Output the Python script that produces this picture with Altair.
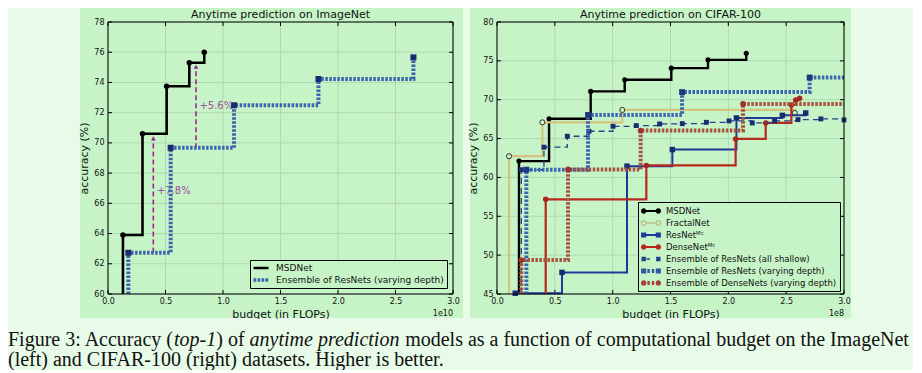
import altair as alt
import pandas as pd

# ------------------------------------------------------------------ data
X_TICKS = [0.0, 0.5, 1.0, 1.5, 2.0, 2.5, 3.0]
L_Y_TICKS = [60, 62, 64, 66, 68, 70, 72, 74, 76, 78]
R_Y_TICKS = [45, 50, 55, 60, 65, 70, 75, 80]

# ImageNet (budget in 1e10 FLOPs)
L_NAMES = ["MSDNet", "Ensemble of ResNets (varying depth)"]
L_MSD_X = [0.13, 0.30, 0.51, 0.707, 0.837]
L_MSD_Y = [63.9, 70.6, 73.75, 75.3, 76.0]
L_ENS_X = [0.177, 0.545, 1.096, 1.83, 2.656]
L_ENS_Y = [62.73, 69.68, 72.49, 74.23, 75.66]
L_GAIN_X = [0.394, 0.765]
L_GAIN_FROM = [62.75, 69.65]
L_GAIN_TO = [70.3, 75.04]
L_GAIN_LABEL = ["+7.8%", "+5.6%"]
L_GAIN_LABEL_X = [0.425, 0.795]
L_GAIN_LABEL_Y = [66.8, 72.45]

# CIFAR-100 (budget in 1e8 FLOPs)
R_NAMES = ["MSDNet", "FractalNet", "ResNet\u1d39\u1d9c", "DenseNet\u1d39\u1d9c",
           "Ensemble of ResNets (all shallow)", "Ensemble of ResNets (varying depth)",
           "Ensemble of DenseNets (varying depth)"]
R_X = [
    [0.19, 0.45, 0.81, 1.104, 1.507, 1.824, 2.155],
    [0.104, 0.392, 1.083, 2.574],
    [0.158, 0.562, 1.124, 1.516, 2.07, 2.467, 2.669],
    [0.421, 1.291, 2.063, 2.323, 2.545, 2.582, 2.617],
    [0.21, 0.406, 0.608, 0.795, 1.003, 1.204, 1.406, 1.602, 1.81, 2.006, 2.207, 2.40, 2.602, 2.80, 3.0],
    [0.254, 0.787, 1.60, 2.703],
    [0.21, 0.614, 1.242, 2.127],
]
R_Y = [
    [62.1, 67.56, 71.07, 72.56, 74.06, 75.13, 75.98],
    [62.73, 67.09, 68.68, 68.3],
    [45.1, 47.78, 61.45, 63.59, 67.65, 67.99, 68.29],
    [57.18, 61.54, 64.96, 67.01, 69.32, 69.96, 70.2],
    [60.99, 63.89, 65.3, 65.94, 66.58, 66.67, 66.88, 66.92, 67.09, 67.27, 67.01, 67.27, 67.44, 67.53, 67.4],
    [61.0, 68.04, 70.98, 72.86],
    [49.36, 61.03, 66.03, 69.45],
]

TITLES = ["Anytime prediction on ImageNet", "Anytime prediction on CIFAR-100"]
OFFSET_LABELS = ["1e10", "1e8"]
CAPTION_1 = [("Figure 3: Accuracy (", False), ("top-1", True), (") of ", False),
             ("anytime prediction", True),
             (" models as a function of computational budget on the ImageNet", False)]
CAPTION_2 = "(left) and CIFAR-100 (right) datasets. Higher is better."

# ------------------------------------------------------------------ style
MINT = "#e8fbe8"
PANEL = "#c7f4c7"
GRID = "#a8d2ac"
FONT = "DejaVu Sans"
W_L, W_R, H = 345, 347, 272
PURPLE = "#9c2596"
LEFT_PAD = 100

R_STYLE = [
    dict(c="#000000", w=2.4, dash=None, m="circle", ms=26, mc="#000000", bottom=True, edge=False),
    dict(c="#d6c47e", w=2.2, dash=None, m="circle", ms=26, mc="open", bottom=True, edge=False),
    dict(c="#1c3a9a", w=2.0, dash=None, m="square", ms=30, mc="#1b2b70", bottom=False, edge=False),
    dict(c="#b8281e", w=2.2, dash=None, m="circle", ms=30, mc="#a8281e", bottom=True, edge=False),
    dict(c="#23428a", w=1.3, dash=[6, 4], m="square", ms=24, mc="#1b2d72", bottom=True, edge=False),
    dict(c="#3a64b0", w=4.0, dash=[2.5, 1.5], m="square", ms=34, mc="#1f3580", bottom=True, edge=True),
    dict(c="#a6503e", w=4.0, dash=[2.5, 1.5], m="circle", ms=34, mc="#a0332a", bottom=True, edge=True),
]
L_STYLE = [
    dict(c="#000000", w=2.6, dash=None, m="circle", ms=30, mc="#000000", bottom=True, edge=False),
    dict(c="#3a64b0", w=4.0, dash=[2.5, 1.5], m="square", ms=36, mc="#1b2b70", bottom=True, edge=False),
]
R_LEG_COLORS = ["#000000", "#b8a860", "#1c3a9a", "#b8281e", "#23428a", "#2f56a6", "#a6403a"]
L_LEG_COLORS = ["#000000", "#3a64b0"]


def circ(cx, r, sweep=1):
    return (f"M{cx - r:.3f},0A{r},{r} 0 1,{sweep} {cx + r:.3f},0"
            f"A{r},{r} 0 1,{sweep} {cx - r:.3f},0Z")


def sq(cx, h):
    return f"M{cx - h:.3f},{-h}L{cx + h:.3f},{-h}L{cx + h:.3f},{h}L{cx - h:.3f},{h}Z"


def bar(x0, x1, h):
    return f"M{x0:.3f},{-h:.3f}L{x1:.3f},{-h:.3f}L{x1:.3f},{h:.3f}L{x0:.3f},{h:.3f}Z"


# right legend symbols: unit = 6 px (symbolSize 144)
R_LEG_PATHS = [
    bar(-1.22, 1.22, 0.17) + circ(-1.22, 0.45) + circ(1.22, 0.45),
    circ(-1.22, 0.47) + circ(-1.22, 0.3, 0) + circ(1.22, 0.47) + circ(1.22, 0.3, 0) + bar(-0.75, 0.75, 0.1),
    bar(-1.22, 1.22, 0.17) + sq(-1.22, 0.43) + sq(1.22, 0.43),
    bar(-1.22, 1.22, 0.17) + circ(-1.22, 0.45) + circ(1.22, 0.45),
    sq(-1.22, 0.37) + bar(-0.75, -0.17, 0.12) + sq(1.22, 0.37),
    sq(-1.22, 0.43) + bar(-0.6, -0.2, 0.33) + bar(0.13, 0.53, 0.33) + sq(1.22, 0.43),
    circ(-1.22, 0.45) + bar(-0.6, -0.2, 0.33) + bar(0.13, 0.53, 0.33) + circ(1.22, 0.45),
]
# left legend symbols: unit = 5 px (symbolSize 100)
L_LEG_PATHS = [
    bar(-1.5, 1.5, 0.25),
    bar(-1.5, -0.95, 0.35) + bar(-0.7, -0.15, 0.35) + bar(0.1, 0.65, 0.35) + bar(0.9, 1.45, 0.35),
]

one = pd.DataFrame({"a": [0]})


def scales(ydom):
    return (alt.Scale(domain=[0, 3], nice=False, zero=False),
            alt.Scale(domain=ydom, nice=False, zero=False))


def axes(yticks):
    xaxis = alt.Axis(values=X_TICKS, format=".1f", title="budget (in FLOPs)", grid=False, ticks=False,
                     domain=False, labelFontSize=8, labelColor="#111", labelPadding=3, titlePadding=3,
                     titleFontSize=11, zindex=1, labelFlush=False, labelOverlap=False)
    yaxis = alt.Axis(values=yticks, format="d", title="accuracy (%)", grid=False, ticks=False,
                     domain=False, labelFontSize=8, labelColor="#111", labelPadding=4, titlePadding=4,
                     titleFontSize=11, zindex=1, labelFlush=False, labelOverlap=False)
    return xaxis, yaxis


class Panel:
    def __init__(self, W, ydom, yticks):
        self.W = W
        self.xsc, self.ysc = scales(ydom)
        self.xax, self.yax = axes(yticks)
        self.yticks = yticks
        self.ymin = ydom[0]

    def X(self, f):
        return alt.X(f, scale=self.xsc, axis=self.xax)

    def Y(self, f):
        return alt.Y(f, scale=self.ysc, axis=self.yax)

    def frame_layers(self, rect_x0, rect_x1, left_pad=None):
        W = self.W
        layers = []
        if left_pad is not None:
            layers.append(alt.Chart(one).mark_rect(fill=MINT).encode(
                x=alt.value(-left_pad), x2=alt.value(rect_x0), y=alt.value(-14), y2=alt.value(H + 24)))
        layers.append(alt.Chart(one).mark_rect(fill=PANEL).encode(
            x=alt.value(rect_x0), x2=alt.value(rect_x1), y=alt.value(-14), y2=alt.value(H + 24)))
        xt = pd.DataFrame({"t": X_TICKS})
        yt = pd.DataFrame({"t": self.yticks})
        layers.append(alt.Chart(xt).mark_rule(color=GRID, strokeWidth=0.8).encode(
            x=self.X("t:Q"), y=alt.value(0), y2=alt.value(H)))
        layers.append(alt.Chart(yt).mark_rule(color=GRID, strokeWidth=0.8).encode(
            y=self.Y("t:Q"), x=alt.value(0), x2=alt.value(W)))
        for a, b in [(0, 4), (H - 4, H)]:
            layers.append(alt.Chart(xt).mark_rule(color="black", strokeWidth=1).encode(
                x=self.X("t:Q"), y=alt.value(a), y2=alt.value(b)))
        for a, b in [(0, 4), (W - 4, W)]:
            layers.append(alt.Chart(yt).mark_rule(color="black", strokeWidth=1).encode(
                y=self.Y("t:Q"), x=alt.value(a), x2=alt.value(b)))
        return layers

    def series(self, xs, ys, st):
        lx = ([xs[0]] if st["bottom"] else []) + list(xs) + ([3.0] if st["edge"] else [])
        ly = ([self.ymin] if st["bottom"] else []) + list(ys) + ([ys[-1]] if st["edge"] else [])
        ldf = pd.DataFrame({"x": lx, "y": ly, "i": list(range(len(lx)))})
        lk = dict(interpolate="step-after", color=st["c"], strokeWidth=st["w"], strokeCap="butt")
        if st["dash"]:
            lk["strokeDash"] = st["dash"]
        line = alt.Chart(ldf).mark_line(**lk).encode(x=self.X("x:Q"), y=self.Y("y:Q"), order="i:Q")
        pdf = pd.DataFrame({"x": list(xs), "y": list(ys)})
        if st["mc"] == "open":
            pk = dict(shape=st["m"], filled=True, fill=PANEL, stroke="#333333", strokeWidth=1,
                      size=st["ms"], opacity=1)
        else:
            pk = dict(shape=st["m"], filled=True, color=st["mc"], size=st["ms"], opacity=1)
        pts = alt.Chart(pdf).mark_point(**pk).encode(x=self.X("x:Q"), y=self.Y("y:Q"))
        return [line, pts]

    def legend(self, names, colors, paths, size, lx, ly, fs, row_pad, label_off, sym_off):
        leg = alt.Legend(title=None, orient="none", legendX=lx, legendY=ly, fillColor=PANEL,
                         strokeColor="black", padding=3, labelFont=FONT, labelFontSize=fs,
                         labelColor="#111", symbolSize=size, symbolStrokeWidth=0, rowPadding=row_pad,
                         labelOffset=label_off, symbolOffset=sym_off, labelLimit=400)
        df = pd.DataFrame({"name": names, "x": [0.0] * len(names), "y": [0.0] * len(names)})
        return alt.Chart(df).transform_filter("datum.x > 1000").mark_point(
            filled=True, size=size, opacity=1, strokeWidth=0).encode(
            x=self.X("x:Q"), y=self.Y("y:Q"),
            color=alt.Color("name:N", scale=alt.Scale(domain=names, range=colors), legend=leg),
            shape=alt.Shape("name:N", scale=alt.Scale(domain=names, range=paths), legend=leg))

    def box(self):
        return alt.Chart(one).mark_rect(filled=False, stroke="black", strokeWidth=1).encode(
            x=alt.value(0), x2=alt.value(self.W), y=alt.value(0), y2=alt.value(H))

    def texts(self, title, offset_label):
        t1 = alt.Chart(one).mark_text(align="center", baseline="alphabetic", font=FONT, fontSize=11,
                                      color="#111").encode(
            x=alt.value(self.W / 2), y=alt.value(-4), text=alt.value(title))
        t2 = alt.Chart(one).mark_text(align="right", font=FONT, fontSize=8, color="#111").encode(
            x=alt.value(self.W), y=alt.value(H + 20), text=alt.value(offset_label))
        return [t1, t2]


# ------------------------------------------------------------------ left panel
PL = Panel(W_L, [60, 78], L_Y_TICKS)
left_layers = PL.frame_layers(-28, W_L + 10, left_pad=LEFT_PAD)
gain = pd.DataFrame({"x": L_GAIN_X, "y0": L_GAIN_FROM, "y1": L_GAIN_TO, "t": L_GAIN_LABEL,
                     "tx": L_GAIN_LABEL_X, "ty": L_GAIN_LABEL_Y})
left_layers.append(alt.Chart(gain).mark_rule(color=PURPLE, strokeWidth=1.6, strokeDash=[5, 3]).encode(
    x=PL.X("x:Q"), y=PL.Y("y0:Q"), y2="y1:Q"))
left_layers.append(alt.Chart(gain).mark_point(shape="triangle-up", filled=True, size=22,
                                              color=PURPLE, opacity=1).encode(
    x=PL.X("x:Q"), y=PL.Y("y1:Q")))
left_layers.append(alt.Chart(gain).mark_text(align="left", baseline="middle", color="#a050a0",
                                             font=FONT, fontSize=10).encode(
    x=PL.X("tx:Q"), y=PL.Y("ty:Q"), text="t:N"))
left_layers += PL.series(L_ENS_X, L_ENS_Y, L_STYLE[1])
left_layers += PL.series(L_MSD_X, L_MSD_Y, L_STYLE[0])
left_layers.append(PL.legend(L_NAMES, L_LEG_COLORS, L_LEG_PATHS, 100, 142, 238, 9, 2, 10, 3))
left_layers.append(PL.box())
left_layers += PL.texts(TITLES[0], OFFSET_LABELS[0])
left = alt.layer(*left_layers).properties(width=W_L, height=H)

# ------------------------------------------------------------------ right panel
PR = Panel(W_R, [45, 80], R_Y_TICKS)
right_layers = PR.frame_layers(-27, W_R + 7)
for xs_, ys_, st in zip(R_X, R_Y, R_STYLE):
    right_layers += PR.series(xs_, ys_, st)
right_layers.append(PR.legend(R_NAMES, R_LEG_COLORS, R_LEG_PATHS, 144, 141, 180, 8.5, 1, 9, 4))
right_layers.append(PR.box())
right_layers += PR.texts(TITLES[1], OFFSET_LABELS[1])
right = alt.layer(*right_layers).properties(width=W_R, height=H)

# ------------------------------------------------------------------ caption
CW, CH = 805, 50
CFS = 20
cap_layers = [alt.Chart(one).mark_rect(fill=MINT).encode(
    x=alt.value(-LEFT_PAD), x2=alt.value(CW), y=alt.value(0), y2=alt.value(CH))]
# approximate advance widths (em) of the caption segments in a Times-like face
SEG_EM = [8.303, 2.111, 1.666, 7.527]
pos = -LEFT_PAD + 0.0
for i, (txt, ital) in enumerate(CAPTION_1):
    lead = 0.25 * CFS if txt.startswith(" ") else 0.0
    cap_layers.append(alt.Chart(one).mark_text(
        align="left", baseline="alphabetic", font="Liberation Serif", fontSize=CFS,
        fontStyle="italic" if ital else "normal", color="#111").encode(
        x=alt.value(pos + lead), y=alt.value(27), text=alt.value(txt.strip())))
    if i < len(SEG_EM):
        pos += SEG_EM[i] * CFS
cap_layers.append(alt.Chart(one).mark_text(
    align="left", baseline="alphabetic", font="Liberation Serif", fontSize=CFS, color="#111").encode(
    x=alt.value(-LEFT_PAD), y=alt.value(47), text=alt.value(CAPTION_2)))
caption = alt.layer(*cap_layers).properties(width=CW, height=CH)

chart = alt.vconcat(
    alt.hconcat(left, right, spacing=4).resolve_scale(color="independent", shape="independent"),
    caption, spacing=0
).configure(background=MINT, padding=0).configure_view(stroke=None).configure_axis(
    labelFont=FONT, titleFont=FONT, titleFontWeight="normal", titleColor="#111"
)

chart.save("out.html", embed_options={"renderer": "svg", "actions": False})
